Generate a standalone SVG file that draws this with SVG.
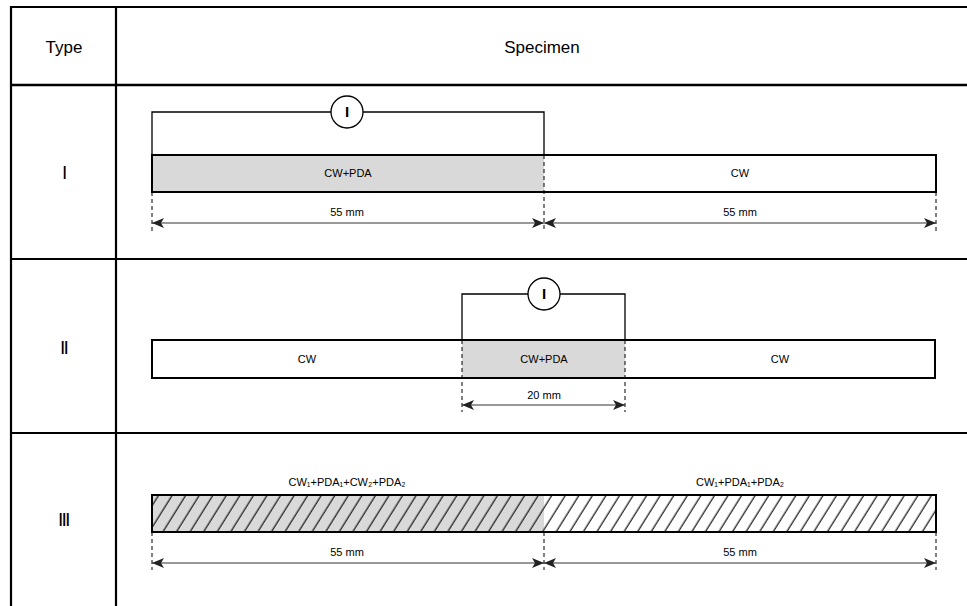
<svg xmlns="http://www.w3.org/2000/svg" width="967" height="606" viewBox="0 0 967 606">
<defs>
<marker id="arr" viewBox="0 0 12 10" refX="12" refY="5" markerWidth="12" markerHeight="10" markerUnits="userSpaceOnUse" orient="auto-start-reverse">
<path d="M0,0 L12,5 L0,10 L3,5 Z" fill="#222"/>
</marker>
<pattern id="hatch" patternUnits="userSpaceOnUse" width="11.5" height="14" patternTransform="rotate(32)">
<line x1="6" y1="0" x2="6" y2="14" stroke="#222" stroke-width="1.3"/>
</pattern>
</defs>
<style>
.grid{stroke:#000;stroke-width:2.2;fill:none}
.bar{stroke:#000;stroke-width:2;}
.brk{stroke:#000;stroke-width:1.3;fill:none}
.dash{stroke:#000;stroke-width:1;stroke-dasharray:4,3;fill:none}
.dim{stroke:#333;stroke-width:1;fill:none;marker-start:url(#arr);marker-end:url(#arr)}
.hdr{font-family:"Liberation Sans",Arial,sans-serif;font-size:17px;fill:#000;text-anchor:middle}
.lbl{font-family:"Liberation Sans",Arial,sans-serif;font-size:11px;fill:#000;text-anchor:middle}
.num{font-family:"Liberation Serif","Times New Roman",serif;font-size:18px;fill:#000;text-anchor:middle}
.ci{font-family:"Liberation Sans",Arial,sans-serif;font-size:15px;font-weight:bold;fill:#000;text-anchor:middle}
</style>
<g id="table">
<line class="grid" x1="10" y1="7" x2="967" y2="7"/>
<line class="grid" x1="11" y1="6" x2="11" y2="606"/>
<line class="grid" x1="116" y1="6" x2="116" y2="606"/>
<line class="grid" x1="10" y1="85" x2="967" y2="85" style="stroke-width:2.6"/>
<line class="grid" x1="10" y1="259" x2="967" y2="259"/>
<line class="grid" x1="10" y1="433" x2="967" y2="433"/>
<text class="hdr" x="64" y="53">Type</text>
<text class="hdr" x="542" y="53">Specimen</text>
<text class="num" x="64" y="179">Ⅰ</text>
<text class="num" x="64" y="354">Ⅱ</text>
<text class="num" x="64" y="526">Ⅲ</text>
</g>
<g id="type1">
<rect x="152" y="155" width="392" height="37" fill="#d9d9d9"/>
<rect class="bar" x="152" y="155" width="784" height="37" fill="none"/>
<path class="brk" d="M152,155 V112 H544 V155"/>
<circle cx="347" cy="112" r="16" fill="#fff" stroke="#000" stroke-width="1.3"/>
<text class="ci" x="347" y="117">I</text>
<text class="lbl" x="348" y="177">CW+PDA</text>
<text class="lbl" x="740" y="177">CW</text>
</g>
<g id="type2">
<rect x="462" y="340" width="163" height="38" fill="#d9d9d9"/>
<rect class="bar" x="152" y="340" width="783" height="38" fill="none"/>
<path class="brk" d="M462,340 V294 H625 V340"/>
<circle cx="544" cy="294" r="16" fill="#fff" stroke="#000" stroke-width="1.3"/>
<text class="ci" x="544" y="299">I</text>
<text class="lbl" x="307" y="363">CW</text>
<text class="lbl" x="544" y="363">CW+PDA</text>
<text class="lbl" x="780" y="363">CW</text>
</g>
<g id="type3">
<rect x="152" y="495" width="392" height="37" fill="#d9d9d9"/>
<rect x="152" y="495" width="784" height="37" fill="url(#hatch)"/>
<rect class="bar" x="152" y="495" width="784" height="37" fill="none"/>
<text class="lbl" x="347" y="486">CW₁+PDA₁+CW₂+PDA₂</text>
<text class="lbl" x="740" y="486">CW₁+PDA₁+PDA₂</text>
</g>
<g id="connectors">
<line class="dash" x1="152" y1="192" x2="152" y2="231"/>
<line class="dash" x1="544" y1="155" x2="544" y2="231"/>
<line class="dash" x1="936" y1="192" x2="936" y2="231"/>
<line class="dim" x1="152" y1="223" x2="544" y2="223"/>
<line class="dim" x1="544" y1="223" x2="936" y2="223"/>
<text class="lbl" x="347" y="216">55 mm</text>
<text class="lbl" x="740" y="216">55 mm</text>
<line class="dash" x1="462" y1="340" x2="462" y2="412"/>
<line class="dash" x1="625" y1="340" x2="625" y2="412"/>
<line class="dim" x1="462" y1="405" x2="625" y2="405"/>
<text class="lbl" x="544" y="399">20 mm</text>
<line class="dash" x1="152" y1="532" x2="152" y2="570"/>
<line class="dash" x1="544" y1="532" x2="544" y2="570"/>
<line class="dash" x1="936" y1="532" x2="936" y2="570"/>
<line class="dim" x1="152" y1="563" x2="544" y2="563"/>
<line class="dim" x1="544" y1="563" x2="936" y2="563"/>
<text class="lbl" x="347" y="556">55 mm</text>
<text class="lbl" x="740" y="556">55 mm</text>
</g>
</svg>
